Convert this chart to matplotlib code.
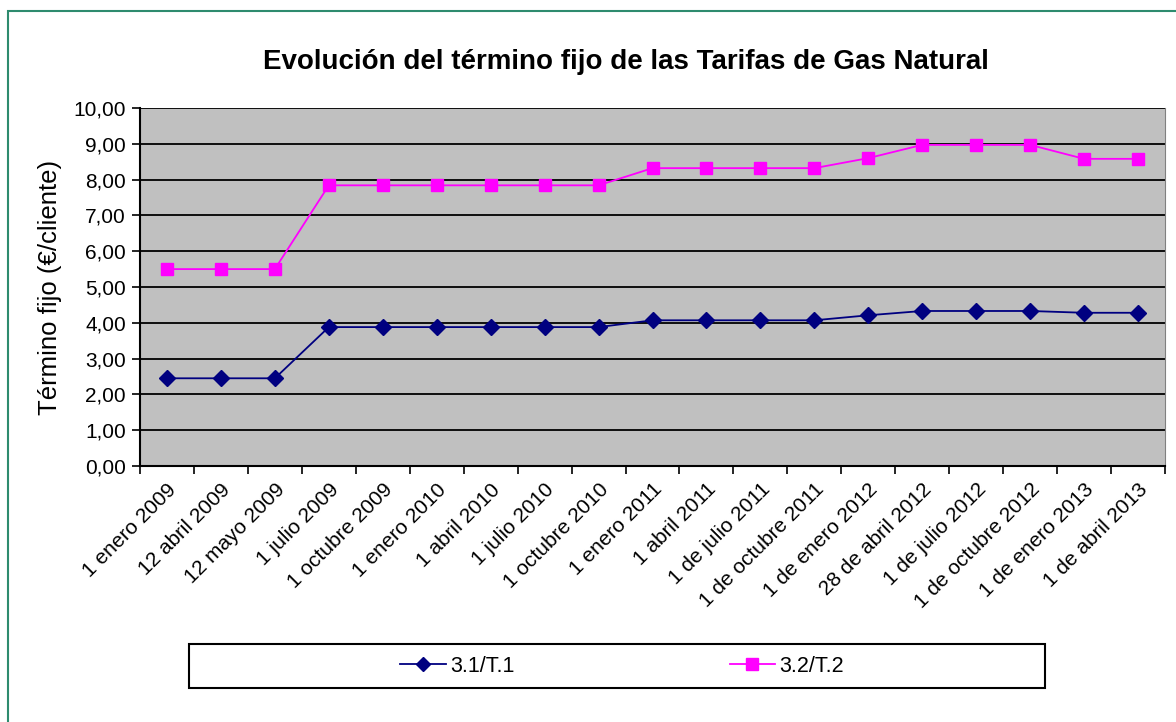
import matplotlib.pyplot as plt
from matplotlib.patches import Rectangle
from matplotlib.ticker import FixedLocator, FuncFormatter

plt.rcParams['font.family'] = ['Liberation Sans', 'DejaVu Sans']

fechas = ["1 enero 2009", "12 abril 2009", "12 mayo 2009", "1 julio 2009",
          "1 octubre 2009", "1 enero 2010", "1 abril 2010", "1 julio 2010",
          "1 octubre 2010", "1 enero 2011", "1 abril 2011", "1 de julio 2011",
          "1 de octubre 2011", "1 de enero 2012", "28 de abril 2012",
          "1 de julio 2012", "1 de octubre 2012", "1 de enero 2013",
          "1 de abril 2013"]
t1 = [2.45, 2.45, 2.45, 3.88, 3.88, 3.88, 3.88, 3.88, 3.88, 4.07, 4.07,
      4.07, 4.07, 4.21, 4.33, 4.33, 4.33, 4.28, 4.28]
t2 = [5.50, 5.50, 5.50, 7.84, 7.84, 7.84, 7.84, 7.84, 7.84, 8.32, 8.32,
      8.32, 8.32, 8.60, 8.97, 8.97, 8.97, 8.58, 8.58]

fig = plt.figure(figsize=(11.76, 7.22), dpi=100)
W, H = 1176, 722

# outer chart border
fig.patches.append(Rectangle((8 / W, -0.1), 1.2, 1 - 11 / H + 0.1,
                             transform=fig.transFigure, fill=False,
                             edgecolor='#2e8b6e', linewidth=1.5))

ax = fig.add_axes([140 / W, 1 - 466 / H, (1165 - 140) / W, (466 - 108) / H])
ax.set_facecolor('#c0c0c0')

x = list(range(len(fechas)))
l1, = ax.plot(x, t1, color='#000080', marker='D', markersize=8, linewidth=1.3)
l2, = ax.plot(x, t2, color='#ff00ff', marker='s', markersize=9, linewidth=1.3)

ax.set_xlim(-0.5, len(fechas) - 0.5)
ax.set_ylim(0, 10)
ax.set_yticks([i for i in range(11)])
ax.yaxis.set_major_formatter(FuncFormatter(lambda v, p: f"{v:.2f}".replace('.', ',')))
ax.grid(axis='y', color='black', linewidth=1.3)
ax.set_axisbelow(True)

ax.xaxis.set_major_locator(FixedLocator([i - 0.5 for i in range(len(fechas) + 1)]))
ax.xaxis.set_major_formatter(FuncFormatter(lambda v, p: ''))
ax.xaxis.set_minor_locator(FixedLocator(x))
ax.set_xticklabels(fechas, minor=True, rotation=45, ha='right',
                   rotation_mode='anchor', fontsize=15)
ax.tick_params(axis='x', which='minor', length=0, pad=10)
ax.tick_params(axis='x', which='major', length=6, width=1.2, direction='out')
ax.tick_params(axis='y', length=6, width=1.2, labelsize=15, pad=4)

ax.spines['top'].set_visible(False)
ax.spines['right'].set_color('#808080')
ax.spines['left'].set_linewidth(1.5)
ax.spines['bottom'].set_linewidth(1.5)

ax.set_ylabel("Término fijo (€/cliente)", fontsize=18.5, labelpad=8)
fig.text(626 / W, 1 - 62 / H, "Evolución del término fijo de las Tarifas de Gas Natural",
         ha='center', va='center', fontsize=20, fontweight='bold')

# legend box
fig.patches.append(Rectangle((189 / W, 1 - 688 / H), (1045 - 189) / W, 44 / H,
                             transform=fig.transFigure, fill=False,
                             edgecolor='black', linewidth=1.5))
fig.legend([l1, l2], ["3.1/T.1", "3.2/T.2"], loc='center',
           bbox_to_anchor=(622 / W, 1 - 666 / H), ncol=2, frameon=False,
           columnspacing=10, handlelength=2.1, handletextpad=0.2,
           fontsize=15.5, markerscale=0.9)

fig.savefig("out.png", dpi=100)
